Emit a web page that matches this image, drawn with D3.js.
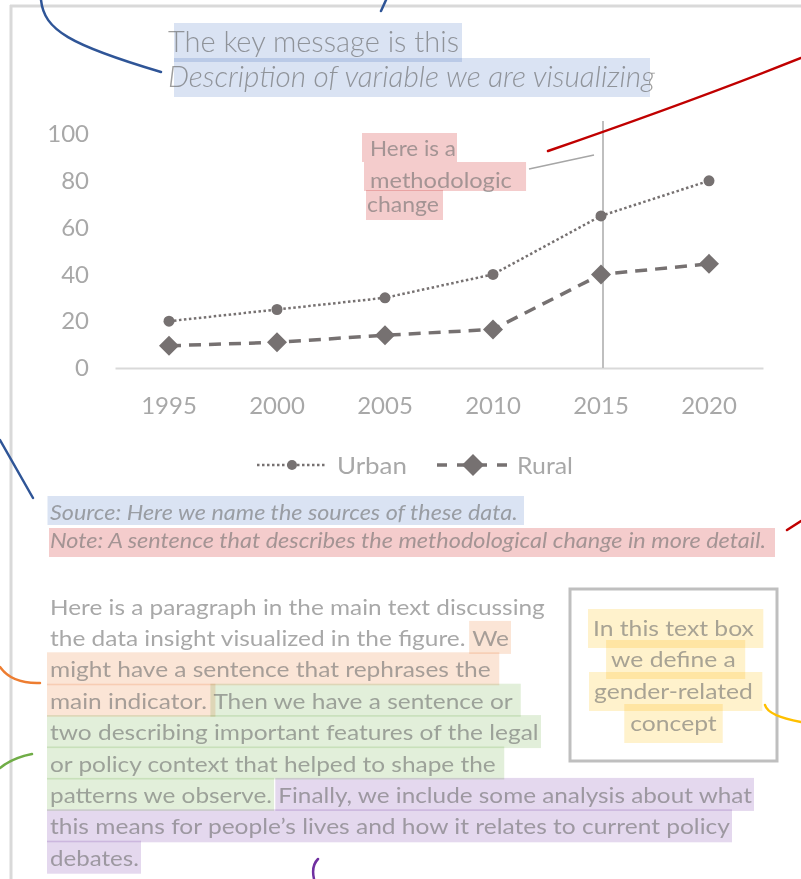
<!DOCTYPE html>
<html><head><meta charset="utf-8">
<script src="https://cdn.jsdelivr.net/npm/d3@7/dist/d3.min.js"></script>
<style>
html,body{margin:0;padding:0;background:#fff;}
svg{display:block;}
text{white-space:pre;}
</style></head><body>
<svg id="c" width="801" height="879"></svg>
<script>
// ---------- data ----------
const years = [1995, 2000, 2005, 2010, 2015, 2020];
const urban = [20, 25, 30, 40, 65, 80];
const rural = [9.5, 11, 14, 16.5, 40, 44.5];
const yTicks = [0, 20, 40, 60, 80, 100];
const seriesNames = ["Urban", "Rural"];
const changeYear = 2015;
const titleText = "The key message is this";
const subtitleText = "Description of variable we are visualizing";
const annotationLines = ["Here is a", "methodologic", "change"];
const sourceText = "Source: Here we name the sources of these data.";
const noteText = "Note: A sentence that describes the methodological change in more detail.";
const paragraphLines = [
  [["Here is a paragraph in the main text discussing", null]],
  [["the data insight visualized in the figure. ", null], ["We", "orange"]],
  [["might have a sentence that rephrases the ", "orange"]],
  [["main indicator. ", "orange"], ["Then we have a sentence or ", "green"]],
  [["two describing important features of the legal", "green"]],
  [["or policy context that helped to shape the ", "green"]],
  [["patterns we observe.", "green"], [" ", null], ["Finally, we include some analysis about what", "purple"]],
  [["this means for people\u2019s lives and how it relates to current policy", "purple"]],
  [["debates.", "purple"]]
];
const boxLines = ["In this text box ", "we define a ", "gender-related ", "concept"];

// ---------- styles ----------
const W = 801, H = 879;
const FONT = "Lato, 'Open Sans', sans-serif";
const INK = "#6e6e6e", INK_OP = 0.6;
const HL = {blue:"#dae3f3", pink:"#f4cccc", orange:"#fbe5d6", green:"#e2efda", purple:"#e4d8ee", yellow:"#fff2cc"};
const MARK = "#767171";

const svg = d3.select("#c");
svg.append("rect").attr("width", W).attr("height", H).attr("fill", "#fff");
const hlLayer = svg.append("g");
const frameLayer = svg.append("g");
const chartLayer = svg.append("g");
const textLayer = svg.append("g");
const inkLayer = svg.append("g");

function measure(str, size, style, weight) {
  const t = svg.append("text").attr("font-family", FONT).attr("font-size", size).attr("font-weight", weight)
    .attr("font-style", style).attr("xml:space", "preserve").text(str);
  const w = t.node().getComputedTextLength();
  t.remove();
  return w;
}

function textLine(o) {
  const style = o.italic ? "italic" : "normal";
  const weight = o.weight || 400;
  const parts = []; let cx = 0;
  const tg = textLayer.append("g");
  o.segs.forEach(s => {
    tg.append("text").attr("x", cx).attr("y", 0)
      .attr("font-family", FONT).attr("font-size", o.size).attr("font-style", style).attr("font-weight", weight)
      .attr("fill", o.ink || INK).attr("fill-opacity", INK_OP).attr("xml:space", "preserve").text(s[0]);
    const w = measure(s[0], o.size, style, weight);
    parts.push({x: cx, w, c: s[1], t: s[0]}); cx += w;
  });
  const last = parts[parts.length - 1];
  const visW = last.x + measure(last.t.replace(/\s+$/, ""), o.size, style, weight);
  const sx = o.target ? o.target / visW : (o.sx || 1);
  let x0 = o.x;
  if (o.anchor === "middle") x0 = o.x - visW * sx / 2;
  const tr = `translate(${x0},${o.y}) scale(${sx},1)`;
  tg.attr("transform", tr);
  const hg = hlLayer.append("g").attr("transform", tr);
  const pl = o.padL ?? 2, pr = o.padR ?? 2;
  parts.forEach(p => {
    if (!p.c) return;
    hg.append("rect").attr("x", p.x - pl / sx).attr("y", -o.top)
      .attr("width", p.w + (pl + pr) / sx).attr("height", o.top + o.bot)
      .attr("fill", HL[p.c]).style("mix-blend-mode", "multiply");
  });
  return sx;
}

// ---------- frame ----------
frameLayer.append("line").attr("x1", 10).attr("x2", W).attr("y1", 6).attr("y2", 6)
  .attr("stroke", "#d9d9d9").attr("stroke-width", 3);
frameLayer.append("line").attr("x1", 11).attr("x2", 11).attr("y1", 5).attr("y2", H)
  .attr("stroke", "#d9d9d9").attr("stroke-width", 3);

// ---------- title ----------
textLine({x:168, y:52, size:29, weight:300, ink:"#5e5e5e", segs:[[titleText, "blue"]], target:291, padL:-6, padR:3, top:29, bot:10});
textLine({x:168, y:87, size:29, weight:300, ink:"#5e5e5e", italic:true, segs:[[subtitleText, "blue"]], target:487, padL:-6, padR:-5, top:29, bot:10});

// ---------- chart ----------
const x = d3.scaleBand().domain(years).range([115, 763]);
const y = d3.scaleLinear().domain([0, 100]).range([368, 134]);
const cx = d => x(d) + x.bandwidth() / 2;

const yAxis = chartLayer.append("g").attr("transform", "translate(115,0)")
  .call(d3.axisLeft(y).tickValues(yTicks).tickSize(0).tickPadding(26).tickFormat(d3.format("d")));
yAxis.select(".domain").remove();
yAxis.selectAll("text").attr("font-family", FONT).attr("font-size", 24)
  .attr("fill", INK).attr("fill-opacity", INK_OP);

const xAxis = chartLayer.append("g").attr("transform", "translate(0,368)")
  .call(d3.axisBottom(x).tickSize(0).tickSizeOuter(0).tickPadding(29));
xAxis.select(".domain").attr("stroke", "#d9d9d9").attr("stroke-width", 2);
xAxis.selectAll("text").attr("font-family", FONT).attr("font-size", 24)
  .attr("fill", INK).attr("fill-opacity", INK_OP);

// methodological change line
chartLayer.append("line").attr("x1", cx(changeYear) + 2).attr("x2", cx(changeYear) + 2)
  .attr("y1", y(100) - 13).attr("y2", y(0)).attr("stroke", "#bfbfbf").attr("stroke-width", 2);

const line = d3.line().x(d => cx(d[0])).y(d => y(d[1]));
const uData = years.map((yr, i) => [yr, urban[i]]);
const rData = years.map((yr, i) => [yr, rural[i]]);

chartLayer.append("path").attr("d", line(uData)).attr("fill", "none")
  .attr("stroke", MARK).attr("stroke-width", 2.5).attr("stroke-dasharray", "2.5,2.5");
chartLayer.append("path").attr("d", line(rData)).attr("fill", "none")
  .attr("stroke", MARK).attr("stroke-width", 3.5).attr("stroke-dasharray", "12,8");

chartLayer.selectAll("circle.u").data(uData).join("circle").attr("class", "u")
  .attr("cx", d => cx(d[0])).attr("cy", d => y(d[1])).attr("r", 5.5).attr("fill", MARK);
const diamond = r => `M0,${-r}L${r},0L0,${r}L${-r},0Z`;
chartLayer.selectAll("path.r").data(rData).join("path").attr("class", "r")
  .attr("d", diamond(10)).attr("transform", d => `translate(${cx(d[0])},${y(d[1])})`).attr("fill", MARK);

// annotation
textLine({x:370, y:156, size:22, segs:[[annotationLines[0], "pink"]], target:86, padL:8, padR:1, top:23, bot:6});
textLine({x:370, y:188, size:22, segs:[[annotationLines[1] + " ", "pink"]], target:142, padL:6, padR:8, top:26, bot:3});
textLine({x:367, y:212, size:22, segs:[[annotationLines[2], "pink"]], target:72, padL:1, padR:4, top:22, bot:8});
chartLayer.append("line").attr("x1", 529).attr("y1", 169).attr("x2", 594).attr("y2", 155)
  .attr("stroke", "#a6a6a6").attr("stroke-width", 1.5);

// legend
const lg = chartLayer.append("g").attr("transform", "translate(0,465)");
lg.append("line").attr("x1", 257).attr("x2", 327).attr("stroke", MARK).attr("stroke-width", 2.5).attr("stroke-dasharray", "2.5,2.5");
lg.append("circle").attr("cx", 292).attr("r", 5).attr("fill", MARK);
lg.append("line").attr("x1", 437).attr("x2", 507).attr("stroke", MARK).attr("stroke-width", 3.5).attr("stroke-dasharray", "10,10");
lg.append("path").attr("d", diamond(11)).attr("transform", "translate(473,0)").attr("fill", MARK);
textLine({x:337, y:473.5, size:24, segs:[[seriesNames[0], null]], target:70, top:0, bot:0});
textLine({x:517, y:473.5, size:24, segs:[[seriesNames[1], null]], target:56, top:0, bot:0});

// source & note
textLine({x:50, y:520, size:21, italic:true, segs:[[sourceText, "blue"]], target:468, padL:2.5, padR:6, top:24, bot:5});
textLine({x:50, y:548, size:21, italic:true, segs:[[noteText, "pink"]], target:716, padL:1, padR:9, top:20, bot:9});

// paragraph
const paraTargets = [495, 459, 441, 463, 489, 446, 702, 680, 89];
paragraphLines.forEach((segs, i) => {
  textLine({x:50, y:614.5 + i * 31.4, size:21, segs, target:paraTargets[i], padL:3, padR:2, top:25, bot:8});
});

// text box
frameLayer.append("rect").attr("x", 570).attr("y", 589).attr("width", 207).attr("height", 172)
  .attr("fill", "none").attr("stroke", "#bfbfbf").attr("stroke-width", 3);
const boxY = [636, 667, 699, 731];
const bsx = 159 / measure("gender-related", 22, "normal", 400);
boxLines.forEach((t, i) => {
  const trailing = /\s$/.test(t);
  textLine({x:673.5, y:boxY[i], size:22, anchor:"middle", segs:[[t, "yellow"]], sx:bsx,
    padL: trailing ? 5 : 6, padR: trailing ? 3 : 6, top:27, bot:12});
});

// pen strokes
const pen = (d, c) => inkLayer.append("path").attr("d", d).attr("fill", "none").attr("stroke", c)
  .attr("stroke-width", 2.5).attr("stroke-linecap", "round");
pen("M41,0 C44,30 70,45 161,72", "#2f5597");
pen("M386,0 L381,11", "#2f5597");
pen("M0,440 L33,498", "#2f5597");
pen("M548,151 Q690,102 801,58", "#c00000");
pen("M787,530 L801,521", "#c00000");
pen("M0,667 Q12,684 40,683", "#ed7d31");
pen("M0,768 Q12,758 32,754", "#70ad47");
pen("M765,705 Q768,716 801,722", "#ffc000");
pen("M318,859 Q311,866 314,879", "#7030a0");
</script>
</body></html>
